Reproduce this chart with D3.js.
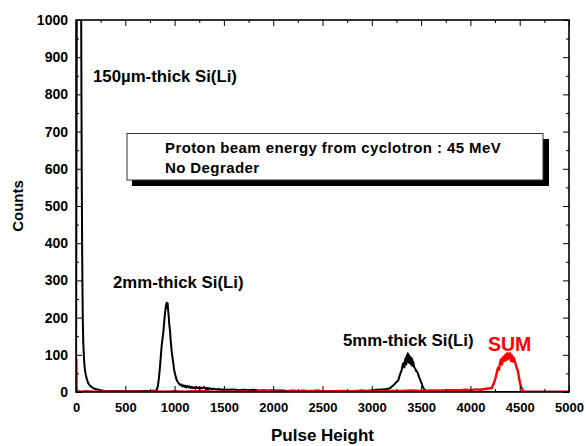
<!DOCTYPE html>
<html>
<head>
<meta charset="utf-8">
<script src="https://cdn.jsdelivr.net/npm/d3@7/dist/d3.min.js"></script>
<style>
body { margin: 0; background: #fff; }
text { font-family: Arial, "Liberation Sans", sans-serif; font-weight: bold; }
</style>
</head>
<body>
<div id="chart"></div>
<script>
// detector spectrum (black): pulse height channel / counts
let blackCh = [0, 10, 48, 50, 54, 58, 62, 66, 70, 74, 80, 85, 91, 100, 110, 125, 140, 150, 175, 200, 243, 300, 350, 400, 450, 500,
    550, 600, 650, 700, 750, 800, 818, 830, 840, 852, 860, 870, 885, 895, 903, 910, 915, 920, 925, 930, 935, 940, 945, 953,
    960, 970, 980, 987, 995, 1005, 1013, 1021, 1030, 1040, 1055, 1070, 1080, 1090, 1100, 1110, 1120, 1130, 1140, 1150, 1160,
    1170, 1180, 1190, 1200, 1210, 1220, 1230, 1240, 1250, 1260, 1270, 1280, 1290, 1300, 1310, 1320, 1330, 1340, 1350, 1375,
    1400, 1425, 1450, 1475, 1500, 1550, 1600, 1650, 1700, 1750, 1800, 1850, 1900, 1950, 2000, 2050, 2100, 2150, 2200, 2250,
    2300, 2350, 2400, 2450, 2500, 2550, 2600, 2650, 2700, 2750, 2800, 2850, 2900, 2950, 3000, 3050, 3100, 3150, 3185, 3200,
    3220, 3240, 3255, 3269, 3280, 3290, 3303, 3310, 3320, 3330, 3337, 3345, 3350, 3355, 3360, 3365, 3370, 3375, 3380, 3385,
    3390, 3395, 3400, 3405, 3410, 3415, 3421, 3430, 3440, 3450, 3460, 3472, 3480, 3490, 3500, 3506, 3515, 3525, 3540, 3560,
    3600, 3700, 3800, 5000];
let blackCounts = [0, 1300, 1300, 1200, 900, 600, 400, 260, 180, 131, 95, 75, 59, 45, 35, 23, 18, 15, 10, 8, 5, 3, 3, 2, 3, 2,
    2, 2, 2, 3, 3, 4, 5, 15, 35, 68, 95, 128, 158, 190, 212, 228, 236, 240, 226, 238, 218, 205, 184, 166,
    140, 110, 90, 77, 60, 48, 40, 32, 28, 24, 19, 20, 15, 18, 14, 17, 12, 16, 13, 15, 11,
    14, 10, 13, 12, 9, 14, 11, 10, 13, 9, 12, 10, 11, 14, 9, 8, 11, 7, 10, 8,
    9, 7, 8, 6, 7, 6, 7, 5, 6, 5, 6, 4, 5, 4, 5, 4, 4, 3, 4, 3,
    4, 3, 3, 4, 3, 3, 2, 3, 3, 2, 3, 3, 4, 3, 5, 6, 7, 8, 10, 14,
    18, 24, 28, 32, 42, 50, 59, 70, 78, 66, 86, 92, 74, 98, 80, 104, 88, 100, 78, 96,
    84, 76, 92, 72, 88, 70, 81, 66, 64, 56, 55, 46, 40, 33, 26, 23, 16, 10, 5, 3,
    2, 1, 0, 0];

// SUM spectrum (red)
let sumCh = [0, 0, 4, 6, 50, 100, 200, 300, 400, 500, 600, 700, 800, 900, 1000, 1100, 1200, 1300, 1400, 1500, 1600, 1700,
    1800, 1900, 2000, 2100, 2200, 2300, 2400, 2500, 2600, 2700, 2800, 2900, 3000, 3100, 3200, 3300, 3400, 3500, 3600,
    3700, 3800, 3900, 3950, 4000, 4050, 4100, 4150, 4200, 4216, 4240, 4255, 4266, 4280, 4290, 4300, 4310, 4320, 4334,
    4345, 4355, 4365, 4375, 4385, 4395, 4402, 4410, 4420, 4430, 4440, 4452, 4460, 4470, 4478, 4486, 4495, 4505, 4520,
    4537, 4560, 4600, 4700, 4800, 4900, 5000];
let sumCounts = [0, 88, 88, 3, 1, 2, 1, 2, 1, 2, 1, 1, 2, 1, 2, 1, 2, 2, 1, 2, 1, 2,
    1, 2, 2, 1, 2, 2, 3, 2, 2, 3, 2, 3, 3, 2, 3, 3, 4, 3, 4,
    4, 5, 5, 6, 5, 7, 6, 8, 10, 10, 25, 38, 50, 65, 60, 77, 88, 74, 95,
    84, 100, 86, 104, 90, 101, 104, 84, 98, 82, 92, 80, 75, 64, 60, 50, 35, 22, 10,
    2, 1, 1, 1, 1, 1, 1];

let xTicks = [0, 500, 1000, 1500, 2000, 2500, 3000, 3500, 4000, 4500, 5000];
let yTicks = [0, 100, 200, 300, 400, 500, 600, 700, 800, 900, 1000];
let xMinor = d3.range(250, 5000, 500);
let yMinor = d3.range(50, 1000, 100);

let detectorLabels = ["150\u00b5m-thick Si(Li)", "2mm-thick Si(Li)", "5mm-thick Si(Li)"];
let infoLines = ["Proton beam energy from cyclotron : 45 MeV", "No Degrader"];

let w = 586, h = 446;
let pLeft = 76, pRight = 569, pTop = 20, pBottom = 392;

let svg = d3.select("#chart").append("svg")
    .attr("width", w)
    .attr("height", h);

let x = d3.scaleLinear().domain([0, 5000]).range([pLeft, pRight]);
let y = d3.scaleLinear().domain([0, 1000]).range([pBottom, pTop]);

svg.append("clipPath")
    .attr("id", "plotclip")
    .append("rect")
    .attr("x", pLeft)
    .attr("y", pTop)
    .attr("width", pRight - pLeft)
    .attr("height", pBottom - pTop);

let line = d3.line()
    .x(d => x(d[0]))
    .y(d => y(d[1]));

let plot = svg.append("g").attr("clip-path", "url(#plotclip)");
plot.append("path")
    .datum(d3.zip(blackCh, blackCounts))
    .attr("d", line)
    .attr("fill", "none")
    .attr("stroke", "#000")
    .attr("stroke-width", 2)
    .attr("stroke-linejoin", "round");
plot.append("path")
    .datum(d3.zip(sumCh, sumCounts))
    .attr("d", line)
    .attr("fill", "none")
    .attr("stroke", "#ff0000")
    .attr("stroke-width", 2.4)
    .attr("stroke-linejoin", "round");

// axes, ticks pointing inward
function styleAxis(g) {
    g.select(".domain").remove();
    g.selectAll(".tick line").attr("stroke", "#000").attr("stroke-width", 1);
    g.selectAll("text").attr("fill", "#000");
}
let fmt = d3.format("d");
svg.append("g")
    .attr("transform", `translate(0,${pBottom})`)
    .call(d3.axisBottom(x).tickValues(xTicks).tickFormat(fmt).tickSize(-6).tickPadding(11))
    .call(styleAxis)
    .selectAll("text").style("font-size", "13px");
svg.append("g")
    .attr("transform", `translate(0,${pBottom})`)
    .call(d3.axisBottom(x).tickValues(xMinor).tickSize(-3).tickFormat(""))
    .call(styleAxis);
svg.append("g")
    .attr("transform", `translate(0,${pTop})`)
    .call(d3.axisTop(x).tickValues(xTicks).tickSize(-6).tickFormat(""))
    .call(styleAxis);
svg.append("g")
    .attr("transform", `translate(0,${pTop})`)
    .call(d3.axisTop(x).tickValues(xMinor).tickSize(-3).tickFormat(""))
    .call(styleAxis);
svg.append("g")
    .attr("transform", `translate(${pLeft},0)`)
    .call(d3.axisLeft(y).tickValues(yTicks).tickFormat(fmt).tickSize(-6).tickPadding(8))
    .call(styleAxis)
    .selectAll("text").style("font-size", "14px");
svg.append("g")
    .attr("transform", `translate(${pLeft},0)`)
    .call(d3.axisLeft(y).tickValues(yMinor).tickSize(-3).tickFormat(""))
    .call(styleAxis);
svg.append("g")
    .attr("transform", `translate(${pRight},0)`)
    .call(d3.axisRight(y).tickValues(yTicks).tickSize(-6).tickFormat(""))
    .call(styleAxis);
svg.append("g")
    .attr("transform", `translate(${pRight},0)`)
    .call(d3.axisRight(y).tickValues(yMinor).tickSize(-3).tickFormat(""))
    .call(styleAxis);

svg.append("rect")
    .attr("x", pLeft)
    .attr("y", pTop)
    .attr("width", pRight - pLeft)
    .attr("height", pBottom - pTop)
    .attr("fill", "none")
    .attr("stroke", "#000")
    .attr("stroke-width", 1.6);

// axis titles
svg.append("text")
    .text("Counts")
    .attr("transform", `translate(23,${(pTop + pBottom) / 2}) rotate(-90)`)
    .attr("text-anchor", "middle")
    .style("font-size", "15px");
svg.append("text")
    .text("Pulse Height")
    .attr("x", (pLeft + pRight) / 2)
    .attr("y", 441)
    .attr("text-anchor", "middle")
    .style("font-size", "17px");

// detector labels
let labelPos = [[93, 82], [113, 288], [343, 346]];
svg.selectAll(".det")
    .data(detectorLabels)
    .enter()
    .append("text")
    .attr("class", "det")
    .text(d => d)
    .attr("x", (d, i) => labelPos[i][0])
    .attr("y", (d, i) => labelPos[i][1])
    .style("font-size", "16.8px");
svg.append("text")
    .text("SUM")
    .attr("x", 488)
    .attr("y", 351)
    .attr("fill", "#ff0000")
    .style("font-size", "19.5px");

// info box with drop shadow
svg.append("rect")
    .attr("x", 132)
    .attr("y", 139)
    .attr("width", 417)
    .attr("height", 47)
    .attr("fill", "#000");
svg.append("rect")
    .attr("x", 127)
    .attr("y", 133.5)
    .attr("width", 416)
    .attr("height", 46.5)
    .attr("fill", "#fff")
    .attr("stroke", "#333")
    .attr("stroke-width", 1);
svg.selectAll(".info")
    .data(infoLines)
    .enter()
    .append("text")
    .attr("class", "info")
    .text(d => d)
    .attr("x", 165)
    .attr("y", (d, i) => 153 + i * 20)
    .style("font-size", "15px")
    .style("letter-spacing", "0.4px");
</script>
</body>
</html>
